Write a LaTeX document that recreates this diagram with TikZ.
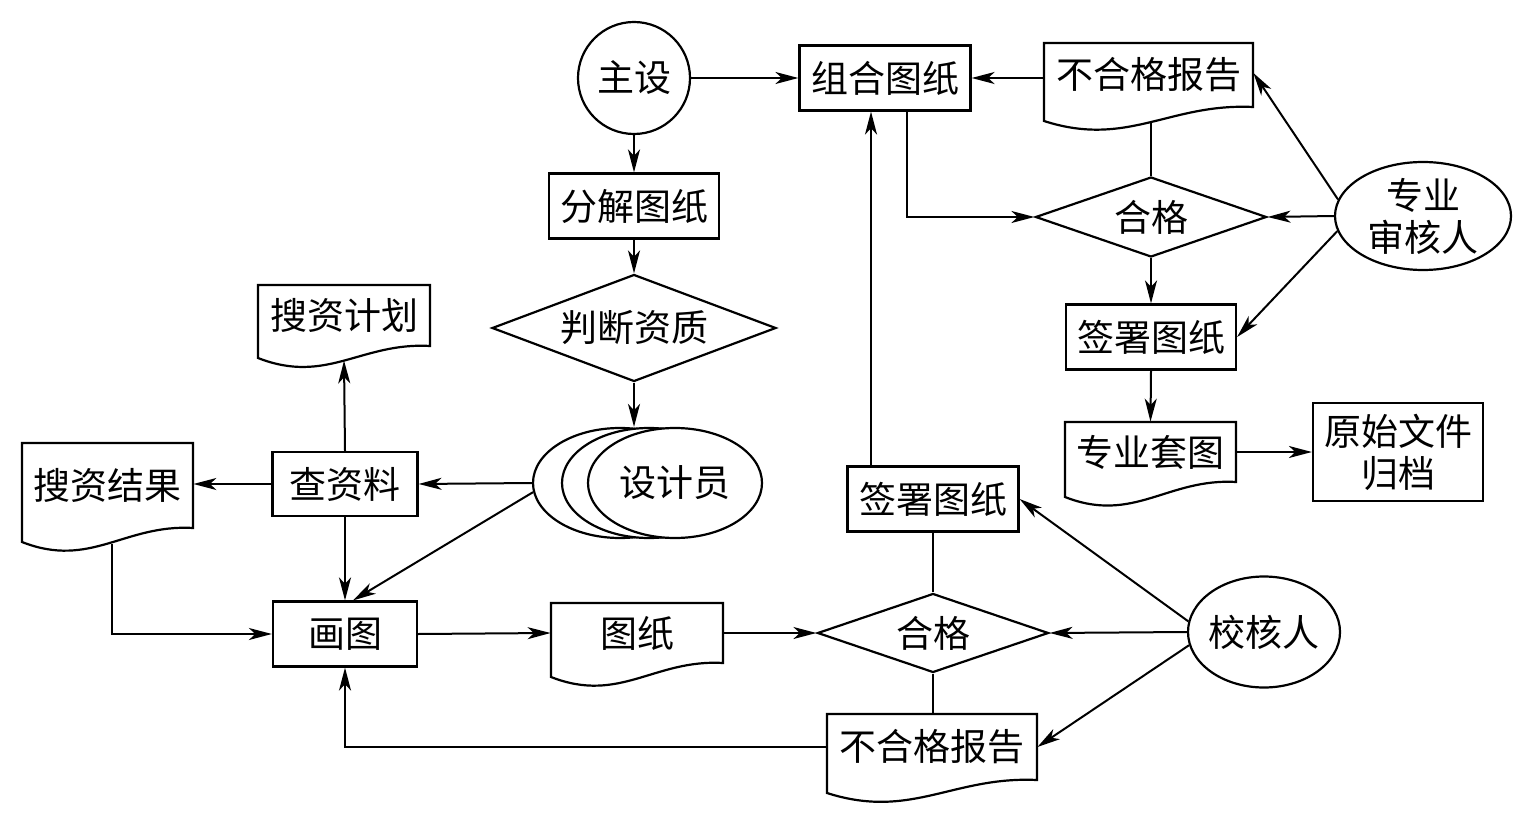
\documentclass[tikz,border=0pt]{standalone}
\usepackage{fontspec}
\setmainfont{Noto Sans CJK SC}
\usetikzlibrary{shapes.geometric,arrows.meta,calc}
\newcommand{\mydoc}[7]{%
  \pgfmathsetmacro\dA{#2+0.6*(#3-#2)}%
  \pgfmathsetmacro\dB{#2+0.4*(#3-#2)}%
  \pgfmathsetmacro\dYa{#6-4}%
  \pgfmathsetmacro\dYb{#5+27}%
  \draw[docline] (#2,#4) -- (#3,#4) -- (#3,#6) .. controls (\dA,\dYa) and (\dB,\dYb) .. (#2,#5) -- cycle;
  \pgfmathsetmacro\dW{(#3-#2)*0.5}%
  \pgfmathsetmacro\dH{(#6-#4)*0.5}%
  \node[minimum width=\dW pt, minimum height=\dH pt] (#1) at ({(#2+#3)/2},{(#4+#6)/2}) {#7};
  \coordinate (#1-b) at ({(#2+#3)/2},{(#5+#6)/2+8.5});
}
\begin{document}
\begin{tikzpicture}[x=0.5pt,y=-0.5pt,
  every node/.style={font=\fontsize{18.5pt}{21pt}\selectfont, inner sep=0pt, align=center},
  box/.style={draw, line width=1.1pt, rectangle},
  dia/.style={draw, line width=1.1pt, diamond},
  ell/.style={draw, line width=1.1pt, ellipse, fill=white, inner sep=-4pt},
  conn/.style={line width=1pt},
  arr/.style={conn, -{Stealth[length=11.5pt,width=6pt,inset=3.2pt]}},
  docline/.style={line width=1.1pt, line join=miter}
]
\useasboundingbox (0,0) rectangle (1530,818);

% left / centre column
\node[draw, circle, line width=1.1pt, minimum size=56pt] (zs) at (634,78) {主设};
\node[box, minimum width=85pt, minimum height=32.5pt] (fj) at (634,206) {分解图纸};
\node[dia, shape aspect=2.65, minimum width=142pt, minimum height=53.5pt] (pd) at (634,328) {判断资质};
\node[ell, minimum width=87pt, minimum height=55pt] (sj1) at (620,483) {};
\node[ell, minimum width=87pt, minimum height=55pt] (sj2) at (649,483) {};
\node[ell, minimum width=87pt, minimum height=55pt] (sj3) at (675,483) {设计员};

\node[box, minimum width=72.5pt, minimum height=32pt] (cz) at (345,484) {查资料};
\node[box, minimum width=72pt, minimum height=32.5pt] (hua) at (345,634) {画图};
\mydoc{sjh}{258}{430}{285}{358}{346}{搜资计划}
\mydoc{sjg}{22}{193}{443}{542}{528}{搜资结果}
\mydoc{tz}{551}{723}{603}{677}{663}{图纸}

% lower check
\node[dia, shape aspect=2.9, minimum width=115.5pt, minimum height=39.5pt] (hg2) at (933,633) {合格};
\node[box, minimum width=85.5pt, minimum height=32.5pt] (qs2) at (933,499) {签署图纸};
\mydoc{bhg2}{827}{1037}{714}{793}{780}{不合格报告}
\node[ell, minimum width=76pt, minimum height=55.5pt] (jhr) at (1264,632) {校核人};

% upper check
\node[box, minimum width=85.5pt, minimum height=32.5pt] (zh) at (885,78) {组合图纸};
\mydoc{bhg1}{1044}{1253}{43}{121}{107}{不合格报告}
\node[dia, shape aspect=2.9, minimum width=115.5pt, minimum height=40pt] (hg1) at (1151,217) {合格};
\node[ell, minimum width=88pt, minimum height=54pt] (zyr) at (1423,216) {专业\\审核人};
\node[box, minimum width=85pt, minimum height=32.5pt] (qs1) at (1151,337) {签署图纸};
\mydoc{tt}{1065}{1236}{422}{497}{482}{专业套图}
\node[box, minimum width=85pt, minimum height=49pt] (gd) at (1398,452) {原始文件\\归档};

% connectors
\draw[arr] (zs.east) -- (zh.west);
\draw[arr] (zs.south) -- (fj.north);
\draw[arr] (fj.south) -- (pd.north);
\draw[arr] (pd.south) -- (pd.south |- sj2.north);
\draw[arr] (sj1.west) -- (cz.east);
\draw[arr] (sj1.186) -- ([xshift=4pt]hua.north);
\draw[arr] (cz.north) -- (sjh-b);
\draw[arr] (cz.west) -- (sjg.east |- cz.west);
\draw[arr] (cz.south) -- (hua.north);
\draw[arr] ([xshift=2pt]sjg-b) |- (hua.west);
\draw[arr] (hua.east) -- (tz.west);
\draw[arr] (tz.east) -- (hg2.west);
\draw[conn] (hg2.north) -- (qs2.south);
\draw[conn] (hg2.south) -- (hg2.south |- bhg2.north);
\draw[arr] (bhg2.west) -| (hua.south);
\draw[arr] (jhr.172) -- (qs2.east);
\draw[arr] (jhr.west) -- (hg2.east);
\draw[arr] (jhr.190) -- (bhg2.east);
\draw[arr] ([xshift=-31pt]qs2.north) -- ([xshift=-31pt]qs2.north |- zh.south);
\draw[arr] ([xshift=11pt]zh.south) |- (hg1.west);
\draw[arr] (bhg1.west |- zh.east) -- (zh.east);
\draw[conn] (hg1.north) -- (hg1.north |- bhg1-b);
\draw[arr] (hg1.south) -- (qs1.north);
\draw[arr] (zyr.169) -- ([yshift=1pt]bhg1.east);
\draw[arr] (zyr.west) -- (hg1.east);
\draw[arr] (zyr.190) -- (qs1.east);
\draw[arr] (qs1.south) -- (tt.north);
\draw[arr] (tt.east) -- (gd.west);
\end{tikzpicture}
\end{document}
